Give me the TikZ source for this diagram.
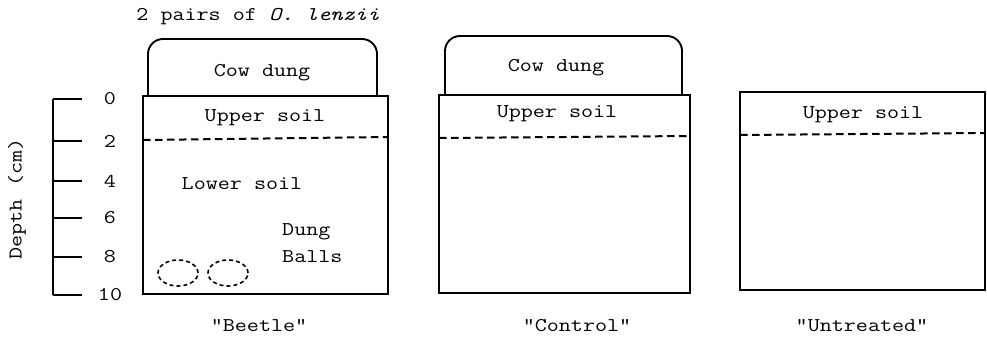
\documentclass[tikz,border=0pt]{standalone}
\usepackage{fontspec}
\setmonofont[FakeStretch=1.2]{Latin Modern Mono}
\begin{document}
\begin{tikzpicture}[x=1pt,y=-1pt,
  lbl/.style={font=\ttfamily\fontsize{19.5}{22}\selectfont, inner sep=0pt},
  wall/.style={line width=1.9pt},
  layer/.style={line width=2pt, dash pattern=on 7.5pt off 4.5pt},
  ball/.style={line width=1.6pt, dash pattern=on 4pt off 3pt},
  tick/.style={line width=2pt}]
\useasboundingbox (0,0) rectangle (987,342);

% title
\node[lbl] (title) at (258,17) {2 pairs of \textit{O. lenzii}};

% depth scale
\draw[tick] (53,99) -- (53,295);
\foreach \d/\y in {0/99,2/141,4/181,6/218,8/257,10/295}{
  \draw[tick] (53,\y) -- (82,\y);
  \node[lbl, anchor=center] (d\d) at (110,\y) {\d};
}
\node[lbl, rotate=90] (depth) at (17,199) {Depth (cm)};

% "Beetle" column
\draw[wall, rounded corners=15pt] (148,96) -- (148,39) -- (377,39) -- (377,96);
\draw[wall] (143,96) rectangle (388,294);
\draw[layer] (143,140) -- (388,137);
\node[lbl] (bdung) at (262,73) {Cow dung};
\node[lbl] (bupper) at (265,118) {Upper soil};
\node[lbl] (blower) at (242,184) {Lower soil};
\node[lbl, anchor=west] (bdb1) at (282,232) {Dung};
\node[lbl, anchor=west] (bdb2) at (282,257) {Balls};
\draw[ball] (178,273) ellipse (20pt and 13pt);
\draw[ball] (228,273) ellipse (20pt and 13pt);
\node[lbl] (beetle) at (259,326) {"Beetle"};

% "Control" column
\draw[wall, rounded corners=15pt] (445,95) -- (445,36) -- (682,36) -- (682,95);
\draw[wall] (439,95) rectangle (690,293);
\draw[layer] (439,138) -- (690,136);
\node[lbl] (cdung) at (556,68) {Cow dung};
\node[lbl] (cupper) at (557,114) {Upper soil};
\node[lbl] (control) at (577,326) {"Control"};

% "Untreated" column
\draw[wall] (740,92) rectangle (985,290);
\draw[layer] (740,135) -- (985,133);
\node[lbl] (uupper) at (863,115) {Upper soil};
\node[lbl] (untreated) at (862,326) {"Untreated"};
\end{tikzpicture}
\end{document}
